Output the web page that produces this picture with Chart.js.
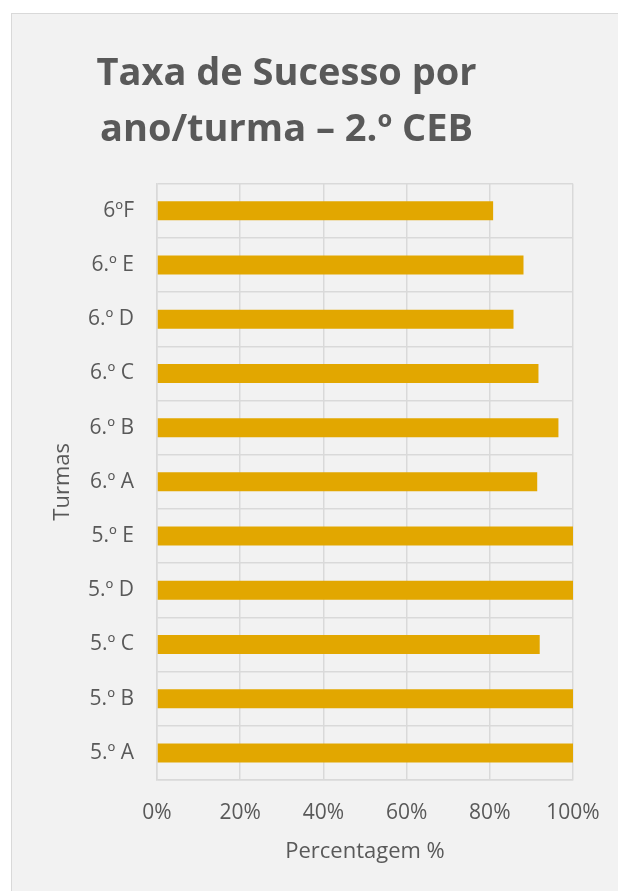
<!DOCTYPE html>
<html>
<head>
<meta charset="utf-8">
<script src="https://cdn.jsdelivr.net/npm/chart.js@4"></script>
<style>
    html, body { margin: 0; padding: 0; background: #ffffff; }
    #frame {
        position: absolute; left: 11px; top: 13px; right: 0; bottom: 0;
        background: #f2f2f2;
        border-left: 1.5px solid #d9d9d9;
        border-top: 1.5px solid #d9d9d9;
    }
    #wrap { position: absolute; left: 0; top: 0; width: 618px; height: 891px; }
</style>
</head>
<body>
<div id="frame"></div>
<div id="wrap"><canvas id="successChart" width="618" height="891"></canvas></div>
<script>
// Taxa de sucesso por turma (2.º CEB)

const turmas = ["5.º A", "5.º B", "5.º C", "5.º D", "5.º E", "6.º A", "6.º B", "6.º C", "6.º D", "6.º E", "6ºF"];
const taxaSucesso = [100, 100, 92, 100, 100, 91.4, 96.5, 91.7, 85.7, 88.1, 80.8];
const xTicks = [0, 20, 40, 60, 80, 100];

const grey = "#595959";
const gridColor = "#d9d9d9";

const ctx = document.getElementById("successChart");

new Chart(ctx, {
    type: "bar",
    data: {
        labels: turmas,
        datasets: [
            {
                label: "Taxa de Sucesso",
                data: taxaSucesso,
                backgroundColor: "#e2a700",
                barPercentage: 0.35,
                categoryPercentage: 1
            }
        ]
    },
    options: {
        indexAxis: "y",
        responsive: false,
        animation: false,
        layout: {
            padding: { left: 0, right: 45, top: 0, bottom: 0 }
        },
        plugins: {
            legend: { display: false },
            tooltip: { enabled: false },
            title: {
                display: true,
                text: ["Taxa de Sucesso por", "ano/turma – 2.º CEB"],
                color: grey,
                font: { family: "Open Sans", size: 38, weight: "bold", lineHeight: 1.47 },
                padding: { top: 46, bottom: 26 }
            }
        },
        scales: {
            x: {
                min: 0,
                max: 100,
                afterBuildTicks: (scale) => {
                    scale.ticks = xTicks.map(v => ({ value: v }));
                },
                afterFit: (scale) => {
                    scale.height = 111;
                    scale.paddingRight = 0;
                },
                grid: { color: gridColor, lineWidth: 1.5, drawTicks: false },
                border: { color: gridColor, width: 1.5 },
                ticks: {
                    color: grey,
                    padding: 20,
                    font: { family: "Open Sans", size: 21 },
                    callback: (v) => v + "%"
                },
                title: {
                    display: true,
                    text: "Percentagem %",
                    color: grey,
                    font: { family: "Open Sans", size: 22 },
                    padding: { top: 0, bottom: 26 }
                }
            },
            y: {
                reverse: true,
                afterFit: (scale) => { scale.width = 157; },
                grid: { color: gridColor, lineWidth: 1.5, drawTicks: false, offset: true },
                border: { color: gridColor, width: 1.5 },
                ticks: {
                    color: grey,
                    padding: 23,
                    font: { family: "Open Sans", size: 21 }
                },
                title: {
                    display: true,
                    text: "Turmas",
                    color: grey,
                    font: { family: "Open Sans", size: 22 },
                    padding: { top: 50, bottom: 0 }
                }
            }
        }
    }
});
</script>
</body>
</html>
